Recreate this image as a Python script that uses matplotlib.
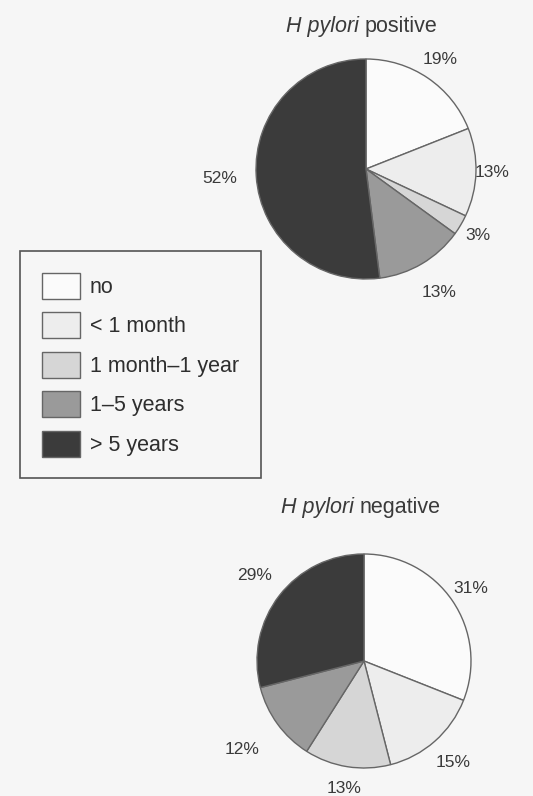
import numpy as np
import matplotlib
matplotlib.use("Agg")
import matplotlib.pyplot as plt
from matplotlib.patches import Patch

plt.rcParams['font.family'] = ['Liberation Sans', 'DejaVu Sans']

# duration categories (legend order == wedge order, clockwise from 12 o'clock)
categories = ["no", "< 1 month", "1 month\u20131 year", "1\u20135 years", "> 5 years"]
positive_pct = [19, 13, 3, 13, 52]
negative_pct = [31, 15, 13, 12, 29]

colours = ['#fbfbfb', '#ededed', '#d6d6d6', '#9a9a9a', '#3b3b3b']
edge = '#666666'
bg = '#f6f6f6'
txt = '#3a3a3a'

W, H = 533, 796
fig = plt.figure(figsize=(W / 100, H / 100), dpi=100, facecolor=bg)


def pie_axes(cx, cy, r):
    # axes positioned in pixels so the pie (radius 1) lands at cx, cy with radius r
    half = 1.5 * r
    ax = fig.add_axes([(cx - half) / W, 1 - (cy + half) / H, 2 * half / W, 2 * half / H])
    ax.set_facecolor(bg)
    return ax


def draw_pie(ax, values, label_dist):
    wedges, _ = ax.pie(values, colors=colours, startangle=90, counterclock=False,
                       wedgeprops=dict(edgecolor=edge, linewidth=1.0))
    for w, v, d in zip(wedges, values, label_dist):
        ang = np.deg2rad((w.theta1 + w.theta2) / 2)
        ax.text(d * np.cos(ang), d * np.sin(ang), f"{v}%", ha='center', va='center',
                fontsize=12.5, color=txt)
    ax.set_xlim(-1.5, 1.5)
    ax.set_ylim(-1.5, 1.5)
    ax.set_aspect('equal')
    ax.axis('off')


def title(x_split, y_base, word):
    fig.text((x_split - 3) / W, 1 - y_base / H, "H pylori", style='italic', ha='right',
             va='baseline', fontsize=15.5, color=txt)
    fig.text((x_split + 3) / W, 1 - y_base / H, word, ha='left',
             va='baseline', fontsize=15.5, color=txt)


ax1 = pie_axes(366, 169, 110)
draw_pie(ax1, positive_pct, [1.2, 1.15, 1.18, 1.3, 1.33])
title(362, 32, "positive")

ax2 = pie_axes(364, 661, 107)
draw_pie(ax2, negative_pct, [1.21, 1.26, 1.21, 1.41, 1.3])
title(357, 513, "negative")

handles = [Patch(facecolor=c, edgecolor=edge, linewidth=1.0) for c in colours]
leg = fig.legend(handles, categories, loc='upper left', bbox_to_anchor=(20 / W, 1 - 251 / H),
                 borderaxespad=0, fontsize=15.5, handlelength=1.8, handleheight=1.48,
                 labelspacing=0.63, handletextpad=0.45, borderpad=1.0,
                 frameon=True, fancybox=False, framealpha=1, facecolor=bg,
                 edgecolor='#555555', labelcolor='#2e2e2e')
leg.get_frame().set_linewidth(1.2)

fig.savefig("out.png", dpi=100, facecolor=bg)
